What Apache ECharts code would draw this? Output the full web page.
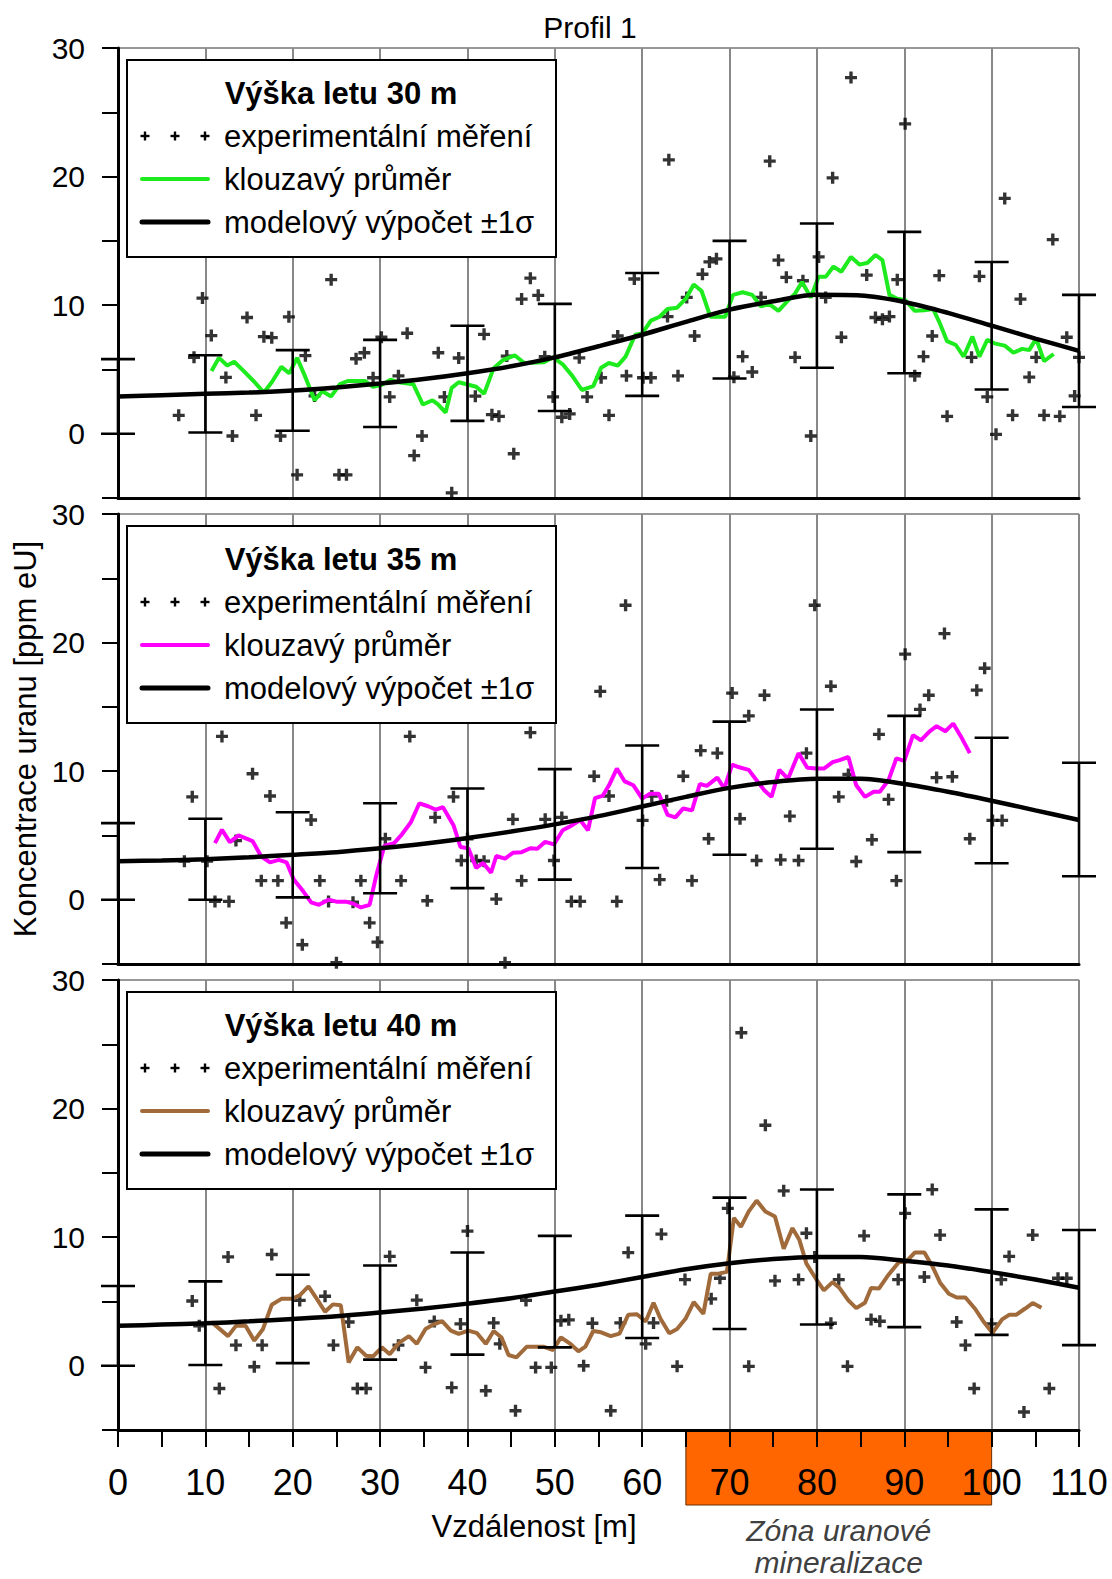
<!DOCTYPE html>
<html>
<head>
<meta charset="utf-8">
<script src="https://cdn.jsdelivr.net/npm/echarts@6/dist/echarts.min.js"></script>
<style>
  html, body { margin: 0; padding: 0; background: #fff; }
  #chart { width: 1112px; height: 1579px; }
</style>
</head>
<body>
<div id="chart"></div>
<script>
// ---- data: airborne uranium profile, three flight heights ----

// model curve, sampled along the profile [m]
const modelX = [0,5,10,15,20,25,30,35,40,45,50,55,60,65,70,75,80,85,90,95,100,105,110];
const model30 = [2.9,3.0,3.1,3.2,3.36,3.6,3.9,4.25,4.7,5.25,5.94,6.8,7.7,8.7,9.65,10.3,10.8,10.75,10.25,9.4,8.4,7.4,6.44];
const model35 = [3.0,3.05,3.15,3.3,3.5,3.7,4.0,4.35,4.8,5.3,5.86,6.5,7.25,8.0,8.7,9.15,9.4,9.4,9.0,8.4,7.7,6.95,6.2];
const model40 = [3.1,3.2,3.3,3.45,3.64,3.85,4.14,4.45,4.83,5.25,5.77,6.3,6.9,7.5,7.97,8.3,8.46,8.45,8.17,7.8,7.28,6.7,6.07];

// ±1σ band of the model at every 10 m
const sigmaX = [0,10,20,30,40,50,60,70,80,90,100,110];
const sigmaLow30  = [0,0.1,0.23,0.52,1.0,1.77,2.94,4.3,5.13,4.7,3.44,2.08];
const sigmaHigh30 = [5.8,6.1,6.5,7.3,8.4,10.1,12.5,15.0,16.35,15.7,13.36,10.8];
const sigmaLow35  = [0,0,0.18,0.5,0.9,1.56,2.47,3.5,3.96,3.7,2.84,1.82];
const sigmaHigh35 = [5.96,6.3,6.8,7.5,8.65,10.16,12.0,13.85,14.8,14.3,12.6,10.65];
const sigmaLow40  = [0,0.05,0.2,0.47,0.86,1.43,2.16,2.86,3.2,3.0,2.4,1.6];
const sigmaHigh40 = [6.2,6.56,7.08,7.8,8.8,10.1,11.67,13.07,13.7,13.33,12.16,10.55];

// experimental measurements [distance, ppm eU]
const measured30 = [[6.95,1.43],[8.7,5.94],[9.67,10.55],[10.68,7.63],[12.35,4.38],[13.1,-0.18],[14.77,9.04],[15.8,1.43],[16.7,7.55],[17.6,7.47],[18.6,-0.18],[19.56,9.09],[20.5,-3.2],[21.45,6.07],[22.5,2.94],[24.4,11.98],[25.3,-3.2],[26.15,-3.2],[27.25,5.83],[28.2,6.3],[29.2,4.35],[30.15,7.5],[31.1,2.86],[32.1,4.5],[33.1,7.81],[33.9,-1.7],[34.8,-0.18],[36.66,6.3],[37.36,2.86],[38.2,-4.6],[39.0,5.89],[40.9,2.92],[41.9,7.73],[42.8,1.48],[43.6,1.35],[44.5,6.04],[45.3,-1.56],[46.2,10.47],[47.2,12.1],[48.1,10.76],[48.85,5.99],[49.8,2.86],[50.8,1.28],[51.7,1.54],[52.8,5.9],[53.7,2.86],[55.3,4.35],[56.2,1.43],[57.2,7.6],[58.2,4.5],[59.1,12.03],[60.1,4.35],[61.0,4.35],[62.9,9.11],[63.05,21.3],[64.1,4.5],[65.1,10.6],[66.0,7.6],[66.9,12.4],[67.7,13.36],[68.5,13.6],[70.5,4.4],[71.5,6.0],[72.6,4.8],[73.6,10.6],[74.6,21.2],[75.6,13.5],[76.5,12.16],[77.5,5.94],[78.4,11.9],[79.3,-0.18],[80.2,13.75],[81.0,10.6],[81.8,19.9],[82.8,7.5],[83.9,27.7],[85.7,12.34],[86.7,9.04],[87.5,8.9],[88.3,9.11],[89.2,11.98],[90.1,24.1],[91.2,4.5],[92.2,6.0],[93.2,7.6],[94.0,12.3],[94.9,1.35],[97.7,5.94],[98.6,12.24],[99.5,2.86],[100.5,-0.05],[101.5,18.3],[102.4,1.43],[103.3,10.47],[104.3,4.4],[105.1,5.94],[106.0,1.43],[107.0,15.1],[107.8,1.35],[108.6,7.5],[109.5,2.94],[110.0,5.94]];
const measured35 = [[7.6,3.0],[8.5,8.0],[10.2,3.0],[11.1,-0.13],[11.9,12.7],[12.7,-0.13],[13.5,4.6],[15.4,9.8],[16.4,1.48],[17.4,8.07],[18.3,1.48],[19.25,-1.8],[21.1,-3.5],[22.1,6.2],[23.1,1.48],[24.1,-0.13],[25.0,-4.9],[26.9,-0.2],[27.8,1.48],[28.8,-1.8],[29.7,-3.3],[30.6,4.74],[32.4,1.48],[33.4,12.7],[35.4,-0.08],[36.3,6.4],[38.4,8.0],[39.3,3.05],[40.0,4.74],[41.0,3.05],[41.9,3.0],[43.3,0.05],[44.3,-4.9],[45.2,6.25],[46.2,1.48],[47.2,13.0],[48.9,6.25],[49.9,3.05],[50.8,6.4],[51.9,-0.13],[52.9,-0.13],[54.5,9.6],[55.2,16.2],[56.2,8.07],[57.1,-0.13],[58.1,22.9],[60.05,6.17],[61.1,8.07],[62.0,1.56],[62.8,7.7],[64.7,9.6],[65.7,1.48],[66.7,11.6],[67.6,4.74],[68.6,11.4],[70.3,16.07],[71.2,6.3],[72.2,14.3],[73.1,3.05],[74.0,15.9],[75.85,3.1],[76.9,6.5],[77.9,3.05],[78.8,11.4],[79.75,22.9],[81.6,16.6],[82.5,8.0],[83.6,9.74],[84.5,2.97],[86.3,4.66],[87.1,12.86],[88.2,7.8],[89.1,1.48],[90.1,19.1],[91.8,14.8],[92.8,15.9],[93.7,9.5],[94.6,20.7],[95.5,9.56],[97.5,4.74],[98.3,16.3],[99.2,18.0],[100.1,6.17],[101.2,6.17]];
const measured40 = [[8.5,5.03],[9.3,3.1],[11.6,-1.77],[12.6,8.46],[13.5,1.6],[15.6,-0.08],[16.5,1.6],[17.6,8.65],[20.8,5.08],[23.7,5.4],[24.66,1.6],[26.4,3.4],[27.4,-1.77],[28.4,-1.77],[31.1,8.5],[32.1,1.6],[34.2,5.1],[35.2,-0.13],[36.2,3.44],[38.2,-1.7],[39.2,3.25],[40.0,10.47],[42.1,-1.95],[43.0,3.33],[43.7,1.7],[45.5,-3.5],[46.7,5.08],[47.8,-0.13],[49.6,-0.13],[50.7,3.5],[51.6,3.57],[53.3,0],[54.3,3.3],[56.4,-3.5],[57.5,3.33],[58.4,8.8],[60.4,1.7],[61.3,3.33],[62.2,10.23],[64.0,-0.05],[64.9,6.7],[67.9,5.2],[68.9,6.8],[69.8,12.24],[71.35,25.9],[72.2,-0.05],[74.1,18.7],[75.2,6.6],[76.2,13.6],[77.9,6.7],[78.8,10.3],[79.75,8.46],[81.6,3.3],[82.5,6.7],[83.5,-0.05],[85.4,10.1],[86.2,3.6],[87.2,3.46],[89.3,6.7],[90.1,11.85],[92.3,6.9],[93.2,13.7],[94.1,10.16],[96.0,3.4],[97.0,1.6],[98.0,-1.77],[100.0,3.25],[101.1,6.7],[102.0,8.5],[103.7,-3.6],[104.7,10.16],[106.6,-1.77],[107.6,6.8],[108.6,6.8]];

// moving averages of the measurements
const average30 = [[10.7,4.87],[11.56,5.9],[12.5,5.3],[13.3,5.6],[14.4,4.87],[15.6,4.04],[16.7,3.2],[17.6,4.0],[18.7,5.2],[19.6,4.7],[20.5,5.9],[21.45,4.4],[22.5,2.6],[23.4,3.3],[24.4,2.9],[25.4,3.85],[26.3,4.1],[28.3,4.1],[29.2,3.65],[30.2,3.8],[31.2,4.2],[32.1,4.0],[33.8,3.85],[34.9,2.27],[36.0,2.6],[36.6,2.3],[37.5,1.64],[38.2,3.57],[39.0,4.0],[41.0,3.65],[41.9,3.1],[43.0,5.1],[44.0,5.7],[45.4,6.1],[46.5,5.5],[48.7,5.55],[49.8,5.94],[50.9,5.4],[52.0,4.5],[53.1,3.4],[54.4,3.7],[55.3,5.13],[56.2,5.5],[57.2,5.3],[58.1,6.0],[59.2,7.7],[60.0,7.8],[61.0,8.8],[62.0,9.1],[62.9,9.7],[64.0,9.8],[65.0,10.5],[65.9,11.6],[66.8,11.1],[67.8,9.1],[69.5,9.1],[70.4,10.8],[71.5,11.0],[72.6,10.8],[73.6,9.9],[74.5,10.1],[75.6,9.56],[76.6,10.3],[77.5,10.9],[78.3,11.8],[79.3,10.6],[80.2,12.2],[81.0,12.2],[81.9,13.0],[82.8,12.6],[83.9,13.75],[84.9,13.15],[85.8,13.3],[86.7,13.9],[87.5,13.5],[88.3,10.8],[89.2,10.5],[90.1,10.4],[91.2,9.56],[92.3,9.6],[93.3,9.7],[94.0,8.7],[94.9,7.2],[95.9,6.9],[96.8,6.0],[97.8,7.55],[98.6,6.0],[99.5,7.3],[100.3,7.03],[101.5,6.85],[102.5,6.3],[103.5,6.6],[104.3,6.5],[105.1,7.4],[106.0,5.65],[107.1,6.2]];
const average35 = [[11.1,4.4],[11.9,5.44],[12.8,4.48],[13.8,5.0],[15.4,4.56],[16.4,3.36],[17.4,2.9],[18.4,3.1],[19.3,2.9],[20.1,1.6],[21.2,0.65],[22.1,-0.2],[23.0,-0.4],[24.1,0],[25.0,-0.15],[26.1,-0.15],[26.9,-0.3],[27.8,-0.6],[28.8,-0.4],[29.6,2.0],[30.5,4.2],[31.6,4.4],[32.4,5.0],[33.5,6.0],[34.5,7.5],[35.5,7.27],[36.4,7.0],[37.2,7.2],[38.4,5.8],[39.2,4.1],[40.1,4.0],[41.0,2.47],[41.8,2.86],[42.7,2.1],[43.3,3.4],[44.3,3.2],[45.2,3.65],[46.2,3.7],[47.2,4.0],[48.0,3.96],[48.9,4.5],[49.9,4.3],[50.9,5.4],[52.0,5.8],[52.9,6.2],[53.8,5.4],[54.6,7.9],[55.5,8.1],[56.2,8.9],[57.1,10.2],[58.0,9.2],[59.0,8.9],[60.0,7.86],[60.9,8.25],[61.9,8.25],[62.9,6.6],[63.8,6.4],[64.7,7.1],[65.7,6.95],[66.6,9.0],[67.4,8.85],[68.6,9.5],[69.4,8.65],[70.3,10.5],[71.1,10.3],[72.2,10.1],[73.2,9.2],[74.0,8.5],[74.8,8.0],[75.7,10.1],[76.7,9.4],[77.9,11.4],[78.9,10.26],[79.95,10.2],[80.8,10.2],[81.8,10.7],[82.6,10.86],[83.6,11.1],[84.5,8.9],[85.5,8.0],[86.5,8.4],[87.2,8.4],[88.2,9.3],[89.1,11.0],[90.0,10.8],[91.0,12.8],[91.9,12.4],[92.9,13.1],[93.7,13.5],[94.7,13.1],[95.6,13.7],[96.6,12.55],[97.5,11.4]];
const average40 = [[10.7,3.4],[12.6,2.3],[13.5,3.1],[14.6,3.1],[15.6,1.95],[16.6,2.86],[17.6,4.74],[18.7,5.2],[19.9,5.2],[20.8,5.47],[21.8,6.17],[22.8,5.16],[23.7,4.2],[24.6,4.77],[25.5,4.7],[26.4,0.26],[27.4,1.43],[28.4,0.78],[29.2,0.73],[30.2,1.43],[31.1,0.9],[32.2,1.8],[33.3,2.3],[34.2,1.7],[35.2,2.86],[36.1,3.2],[37.1,3.46],[38.1,2.73],[39.0,2.47],[40.1,2.73],[41.1,2.53],[42.1,1.7],[43.0,2.7],[43.9,2.2],[44.7,0.83],[45.6,0.65],[46.8,1.48],[48.7,1.48],[49.8,1.22],[50.7,2.2],[51.7,1.74],[52.7,1.12],[53.5,1.48],[54.4,2.7],[55.3,2.6],[56.4,2.3],[57.4,2.5],[58.4,3.96],[59.4,4.0],[60.4,3.44],[61.3,4.9],[62.1,3.65],[63.1,2.53],[64.0,2.86],[65.0,3.7],[65.9,4.95],[67.0,4.04],[67.85,7.16],[68.75,7.16],[69.7,7.3],[70.5,11.5],[71.3,10.8],[72.2,12.0],[73.1,12.84],[74.1,12.0],[75.2,11.6],[76.2,9.1],[77.2,10.7],[78.0,9.77],[78.8,7.94],[79.85,6.8],[80.8,5.86],[81.8,6.5],[82.6,6.04],[83.6,5.08],[84.5,4.48],[85.5,4.9],[86.2,6.04],[87.1,6.0],[88.2,7.08],[89.4,8.07],[90.2,8.07],[91.2,8.8],[92.3,8.8],[93.2,7.76],[94.1,6.46],[95.1,5.6],[96.0,5.3],[97.0,5.3],[98.1,4.43],[99.0,3.5],[100.1,2.55],[101.2,3.6],[102.0,3.96],[102.8,3.96],[103.8,4.43],[104.7,4.87],[105.7,4.5]];

// mineralised zone along the profile [m]
const zoneRange = [65, 100];
const zoneLines = ['Zóna uranové', 'mineralizace'];

// axis labels
const yLabelValues = [0, 10, 20, 30];
const panelTitles = ['Výška letu 30 m', 'Výška letu 35 m', 'Výška letu 40 m'];
const legendNames = ['experimentální měření', 'klouzavý průměr', 'modelový výpočet ±1σ'];
const chartTitle = 'Profil 1';
const xAxisTitle = 'Vzdálenost [m]';
const yAxisTitle = 'Koncentrace uranu [ppm eU]';

// ---- chart ----
const FONT = '"Liberation Sans", Arial, Helvetica, sans-serif';
const PLUS = 'path://M3.6,0h2.8v3.6h3.6v2.8h-3.6v3.6h-2.8v-3.6h-3.6v-2.8h3.6z';
const GRID_LEFT = 118, GRID_WIDTH = 961, GRID_HEIGHT = 450;
const gridTops = [48, 514, 980];
const TOP_Z = 100;

const panels = [
  { measured: measured30, average: average30, model: model30, low: sigmaLow30, high: sigmaHigh30, color: '#1EEB1E' },
  { measured: measured35, average: average35, model: model35, low: sigmaLow35, high: sigmaHigh35, color: '#FF00FF' },
  { measured: measured40, average: average40, model: model40, low: sigmaLow40, high: sigmaHigh40, color: '#A06A3A' }
];

function errorBarItem(params, api) {
  const x = api.value(0);
  const lo = api.coord([x, api.value(1)]);
  const hi = api.coord([x, api.value(2)]);
  const cap = 17;
  const st = { stroke: '#000', lineWidth: 2.6 };
  return {
    type: 'group',
    children: [
      { type: 'line', shape: { x1: lo[0], y1: lo[1], x2: hi[0], y2: hi[1] }, style: st },
      { type: 'line', shape: { x1: hi[0] - cap, y1: hi[1], x2: hi[0] + cap, y2: hi[1] }, style: st },
      { type: 'line', shape: { x1: lo[0] - cap, y1: lo[1], x2: lo[0] + cap, y2: lo[1] }, style: st }
    ]
  };
}

function zoneItem(params, api) {
  const a = api.coord([api.value(0), -5]);
  const b = api.coord([api.value(1), -5]);
  const cx = (a[0] + b[0]) / 2;
  const label = (text, dy) => ({
    type: 'text',
    style: { x: cx, y: a[1] + dy, text: text, font: 'italic 30px ' + FONT, fill: '#404040',
      align: 'center', verticalAlign: 'middle' }
  });
  return {
    type: 'group',
    children: [
      { type: 'rect', shape: { x: a[0], y: a[1], width: b[0] - a[0], height: 75 },
        style: { fill: '#FF6600', stroke: '#6b3000', lineWidth: 1 } },
      label(zoneLines[0], 100),
      label(zoneLines[1], 132)
    ]
  };
}

// put every element of a graphic tree above the plot
function raise(el) {
  el.z = TOP_Z;
  if (el.children) el.children.forEach(raise);
  return el;
}

const grid = [], xAxis = [], yAxis = [], series = [], graphic = [];

panels.forEach((p, i) => {
  const last = i === panels.length - 1;
  grid.push({ left: GRID_LEFT, width: GRID_WIDTH, top: gridTops[i], height: GRID_HEIGHT,
    show: true, borderColor: '#333', borderWidth: 1, backgroundColor: 'transparent' });
  xAxis.push({
    type: 'value', gridIndex: i, min: 0, max: 110, interval: 10,
    axisLine: { show: true, onZero: false, lineStyle: { color: '#000', width: 3 } },
    axisTick: { show: last, length: 17, lineStyle: { color: '#000', width: 2 } },
    minorTick: { show: last, splitNumber: 2, length: 17, lineStyle: { color: '#000', width: 2 } },
    axisLabel: { show: last, fontSize: 36, color: '#000', margin: 34, fontFamily: FONT },
    splitLine: { show: true, lineStyle: { color: '#888', width: 2 } },
    minorSplitLine: { show: false }
  });
  yAxis.push({
    type: 'value', gridIndex: i, min: -5, max: 30, interval: 5,
    axisLine: { show: true, onZero: false, lineStyle: { color: '#000', width: 3 } },
    axisTick: { show: true, length: 16, lineStyle: { color: '#000', width: 2 } },
    axisLabel: { fontSize: 30, color: '#000', margin: 33, fontFamily: FONT,
      formatter: v => (yLabelValues.indexOf(v) >= 0 ? String(v) : '') },
    splitLine: { show: false }
  });

  series.push({
    type: 'scatter', xAxisIndex: i, yAxisIndex: i, data: p.measured,
    symbol: PLUS, symbolSize: 12, itemStyle: { color: '#000' }, clip: false, z: 2, silent: true
  });
  series.push({
    type: 'line', xAxisIndex: i, yAxisIndex: i, data: p.average,
    showSymbol: false, lineStyle: { color: p.color, width: 4 }, z: 3, clip: false, silent: true
  });
  series.push({
    type: 'line', xAxisIndex: i, yAxisIndex: i, data: modelX.map((x, k) => [x, p.model[k]]),
    smooth: 0.3, showSymbol: false, lineStyle: { color: '#000', width: 4.5 }, z: 4, clip: false, silent: true
  });
  series.push({
    type: 'custom', xAxisIndex: i, yAxisIndex: i,
    data: sigmaX.map((x, k) => [x, p.low[k], p.high[k]]),
    encode: { x: 0, y: [1, 2] }, renderItem: errorBarItem, z: 5, clip: false, silent: true
  });

  // legend box of the panel
  const bx = 127, by = gridTops[i] + 12;
  const txt = (x, y, text, bold) => ({
    type: 'text', x: bx + x, y: by + y,
    style: { text: text, font: (bold ? 'bold ' : '') + '31px ' + FONT, fill: '#000',
      align: bold ? 'center' : 'left', verticalAlign: 'middle' }
  });
  const seg = (x1, y1, x2, y2, color, w, cap) => ({
    type: 'line', shape: { x1: bx + x1, y1: by + y1, x2: bx + x2, y2: by + y2 },
    style: { stroke: color, lineWidth: w, lineCap: cap || 'butt' }
  });
  const plus = (cx, cy) => [seg(cx - 4.5, cy, cx + 4.5, cy, '#000', 2.4), seg(cx, cy - 4.5, cx, cy + 4.5, '#000', 2.4)];
  [
    { type: 'rect', shape: { x: bx, y: by, width: 429, height: 197 }, style: { fill: '#fff', stroke: '#000', lineWidth: 2 } },
    txt(214, 33, panelTitles[i], true),
    ...plus(18, 76), ...plus(48, 76), ...plus(78, 76),
    txt(97, 76.5, legendNames[0], false),
    seg(15, 119, 81, 119, p.color, 4, 'round'),
    txt(97, 119, legendNames[1], false),
    seg(15, 162, 81, 162, '#000', 5, 'round'),
    txt(97, 162.5, legendNames[2], false)
  ].forEach(el => graphic.push(raise(el)));
});

series.push({
  type: 'custom', xAxisIndex: 2, yAxisIndex: 2, data: [zoneRange],
  renderItem: zoneItem, z: -1, clip: false, silent: true
});

graphic.push(raise({
  type: 'text', x: 590, y: 27,
  style: { text: chartTitle, font: '30px ' + FONT, fill: '#000', align: 'center', verticalAlign: 'middle' }
}));
graphic.push(raise({
  type: 'text', x: 534, y: 1526,
  style: { text: xAxisTitle, font: '31px ' + FONT, fill: '#000', align: 'center', verticalAlign: 'middle' }
}));
graphic.push(raise({
  type: 'text', x: 25, y: 739, rotation: Math.PI / 2,
  style: { text: yAxisTitle, font: '31px ' + FONT, fill: '#000', align: 'center', verticalAlign: 'middle' }
}));

const chart = echarts.init(document.getElementById('chart'), null, { renderer: 'svg', width: 1112, height: 1579 });
chart.setOption({
  animation: false,
  backgroundColor: '#fff',
  textStyle: { fontFamily: FONT },
  grid: grid,
  xAxis: xAxis,
  yAxis: yAxis,
  series: series,
  graphic: graphic
});
</script>
</body>
</html>
